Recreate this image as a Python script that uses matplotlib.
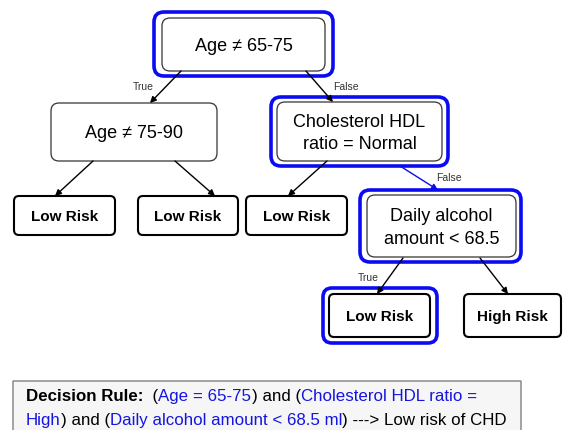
import matplotlib.pyplot as plt
from matplotlib.patches import FancyBboxPatch

plt.rcParams['font.family'] = ['Liberation Sans', 'DejaVu Sans']

# node labels
decision_labels = ["Age \u2260 65-75", "Age \u2260 75-90", "Cholesterol HDL\nratio = Normal",
                   "Daily alcohol\namount < 68.5"]
leaf_labels = ["Low Risk", "Low Risk", "Low Risk", "Low Risk", "High Risk"]
edge_labels = ["True", "False", "False", "True"]

# rule text pieces (text, colour, bold)
rule_line1 = [("Decision Rule:", "black", True), ("  (", "black", False),
              ("Age = 65-75", "#1515e0", False), (") and (", "black", False),
              ("Cholesterol HDL ratio =", "#1515e0", False)]
rule_line2 = [("High", "#1515e0", False), (") and (", "black", False),
              ("Daily alcohol amount < 68.5 ml", "#1515e0", False),
              (") ---> Low risk of CHD", "black", False)]

BLUE = "#0b0bf2"

fig = plt.figure(figsize=(5.64, 4.31), dpi=100)
ax = fig.add_axes([0, 0, 1, 1])
ax.set_xlim(0, 564)
ax.set_ylim(431, 0)
ax.axis('off')


def box(x0, y0, x1, y1, ec, lw, r=7, fc='white', z=2):
    p = FancyBboxPatch((x0, y0), x1 - x0, y1 - y0,
                       boxstyle="round,pad=0,rounding_size=%g" % r,
                       fc=fc, ec=ec, lw=lw, zorder=z)
    ax.add_patch(p)


# decision nodes: inner box, optional blue outline
dec_boxes = [(162, 19, 325, 72), (51, 104, 217, 162), (277, 103, 442, 162), (367, 196, 516, 258)]
dec_outline = [(154, 13, 333, 77), None, (271, 98, 448, 167), (360, 191, 521, 263)]
for lab, b, o in zip(decision_labels, dec_boxes, dec_outline):
    if o is not None:
        box(*o, ec=BLUE, lw=2.6, r=10)
    box(*b, ec='#333333', lw=0.9, r=8, z=3)
    ax.text((b[0] + b[2]) / 2, (b[1] + b[3]) / 2 + 1, lab, ha='center', va='center',
            fontsize=13, linespacing=1.4, zorder=4)

# leaves
leaf_boxes = [(14, 197, 115, 236), (138, 197, 238, 236), (246, 197, 347, 236),
              (329, 295, 430, 338), (464, 295, 561, 338)]
leaf_outline = [None, None, None, (323, 289, 437, 344), None]
for lab, b, o in zip(leaf_labels, leaf_boxes, leaf_outline):
    if o is not None:
        box(*o, ec=BLUE, lw=2.6, r=9)
    box(*b, ec='black', lw=1.5, r=5, z=3)
    ax.text((b[0] + b[2]) / 2, (b[1] + b[3]) / 2 + 1, lab, ha='center', va='center',
            fontsize=11, fontweight='bold', zorder=4)

# edges
edges = [((181, 72), (150, 104), 'black'), ((306, 72), (333, 103), 'black'),
         ((93, 162), (55, 197), 'black'), ((175, 162), (215, 197), 'black'),
         ((327, 162), (288, 197), 'black'), ((400, 167), (438, 191), BLUE),
         ((403, 259), (377, 295), 'black'), ((480, 259), (508, 295), 'black')]
for s, e, c in edges:
    ax.annotate("", xy=e, xytext=s,
                arrowprops=dict(arrowstyle='-|>', color=c, lw=1.0, mutation_scale=9,
                                shrinkA=0, shrinkB=0), zorder=5)

edge_pos = [(143, 87), (346, 87), (449, 178), (368, 278)]
for lab, (x, y) in zip(edge_labels, edge_pos):
    ax.text(x, y, lab, ha='center', va='center', fontsize=7.5, color='#333333')

# decision rule box
box(13, 382, 521, 440, ec='#808080', lw=1.0, r=0, fc='#f6f6f6', z=1)


def write_line(pieces, x, y):
    prev = None
    for txt, col, bold in pieces:
        kw = dict(fontsize=12.2, color=col, fontweight='bold' if bold else 'normal', zorder=4)
        if prev is None:
            prev = ax.text(x, y, txt, ha='left', va='baseline', **kw)
        else:
            prev = ax.annotate(txt, xy=(1, 0), xycoords=prev, ha='left', va='bottom', **kw)


write_line(rule_line1, 26, 401)
write_line(rule_line2, 26, 425)

fig.savefig("out.png", dpi=100)
